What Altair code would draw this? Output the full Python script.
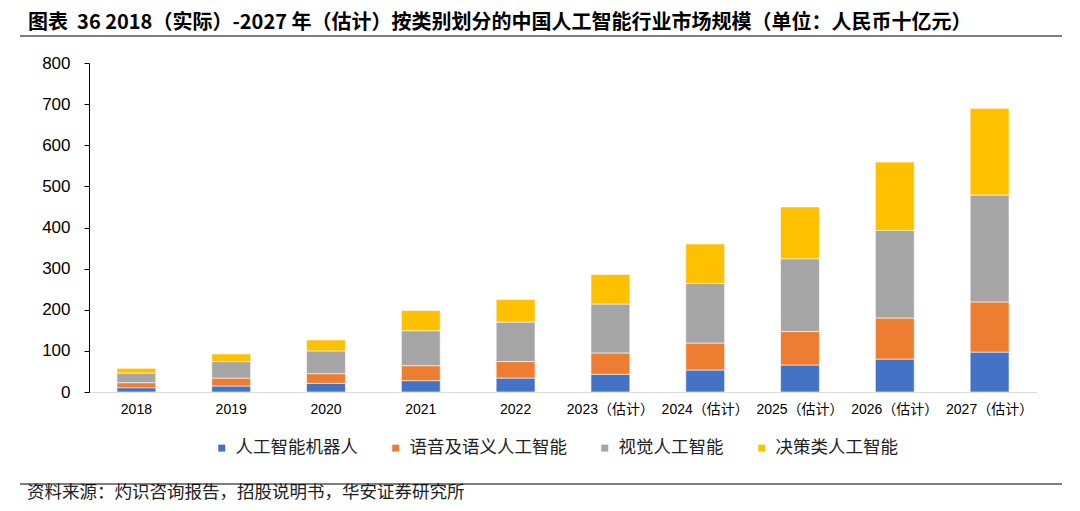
import altair as alt
import pandas as pd

years = ["2018", "2019", "2020", "2021", "2022",
         "2023（估计）", "2024（估计）", "2025（估计）", "2026（估计）", "2027（估计）"]
series = ["人工智能机器人", "语音及语义人工智能", "视觉人工智能", "决策类人工智能"]
colors = ["#4472C4", "#ED7D31", "#A5A5A5", "#FFC000"]

robot = [10.5, 14.6, 21, 27.6, 34, 43, 53.5, 65.7, 80, 97]
speech = [12.2, 19.4, 23.6, 36.4, 40, 52, 65.5, 81.3, 100, 122]
vision = [23.3, 40, 55.4, 85, 96, 119, 145, 177, 213, 260]
decision = [11.6, 18.5, 26.6, 49, 55, 72, 96, 126, 166, 211]

title_text = "图表\u00a0 36 2018（实际）-2027 年（估计）按类别划分的中国人工智能行业市场规模（单位：人民币十亿元）"
source_text = "资料来源：灼识咨询报告，招股说明书，华安证券研究所"

rows = []
for si, (name, vals) in enumerate(zip(series, [robot, speech, vision, decision])):
    for y, v in zip(years, vals):
        rows.append({"year": y, "series": name, "value": v, "order": si})
df = pd.DataFrame(rows)

num_font = "Liberation Sans, Arial, Noto Sans CJK SC"
cjk_font = "Noto Sans CJK SC"

bars = alt.Chart(df).mark_bar(stroke="white", strokeWidth=0.6).encode(
    x=alt.X("year:N", sort=years,
            scale=alt.Scale(paddingInner=0.59, paddingOuter=0.295),
            axis=alt.Axis(title=None, labelAngle=0, ticks=False, domainColor="#D9D9D9",
                          domainWidth=1, labelFont=num_font, labelFontSize=14,
                          labelColor="#000000", labelPadding=10)),
    y=alt.Y("value:Q", stack="zero",
            scale=alt.Scale(domain=[0, 800], nice=False),
            axis=alt.Axis(title=None, values=list(range(0, 801, 100)), grid=False,
                          domainColor="#000000", tickColor="#000000", tickSize=5,
                          labelFont=num_font, labelFontSize=17, labelColor="#000000",
                          labelPadding=14)),
    color=alt.Color("series:N", sort=series,
                    scale=alt.Scale(domain=series, range=colors),
                    legend=alt.Legend(title=None, orient="none", legendX=124, legendY=376,
                                      direction="horizontal", columns=4,
                                      symbolType="square", symbolSize=49,
                                      symbolStrokeWidth=0, labelFont=cjk_font,
                                      labelFontSize=17.5, labelColor="#222222",
                                      labelOffset=5, columnPadding=29, padding=0)),
    order=alt.Order("order:Q", sort="ascending"),
)

title = alt.Chart(pd.DataFrame({"t": [title_text]})).mark_text(
    align="left", baseline="middle", font=cjk_font, fontSize=20, fontWeight="bold",
    color="#000000"
).encode(text="t:N", x=alt.value(-61), y=alt.value(-40))

source = alt.Chart(pd.DataFrame({"t": [source_text]})).mark_text(
    align="left", baseline="middle", font=cjk_font, fontSize=17.5, color="#222222"
).encode(text="t:N", x=alt.value(-62), y=alt.value(430))

line_top = alt.Chart(pd.DataFrame({"a": [0]})).mark_rule(color="#000000", strokeWidth=1.2).encode(
    x=alt.value(-69), x2=alt.value(973), y=alt.value(-27))
line_bottom = alt.Chart(pd.DataFrame({"a": [0]})).mark_rule(color="#000000", strokeWidth=1.2).encode(
    x=alt.value(-69), x2=alt.value(973), y=alt.value(421))

chart = alt.layer(bars, title, source, line_top, line_bottom).properties(
    width=948, height=329,
    background="white",
    autosize=alt.AutoSizeParams(type="none"),
    padding={"left": 81, "top": 55, "right": 35, "bottom": 111},
).configure(
    view=alt.ViewConfig(stroke="transparent", strokeWidth=0),
    style={"cell": {"stroke": "transparent", "strokeWidth": 0}},
)

chart.save("out.html", embed_options={"renderer": "svg", "actions": False})
